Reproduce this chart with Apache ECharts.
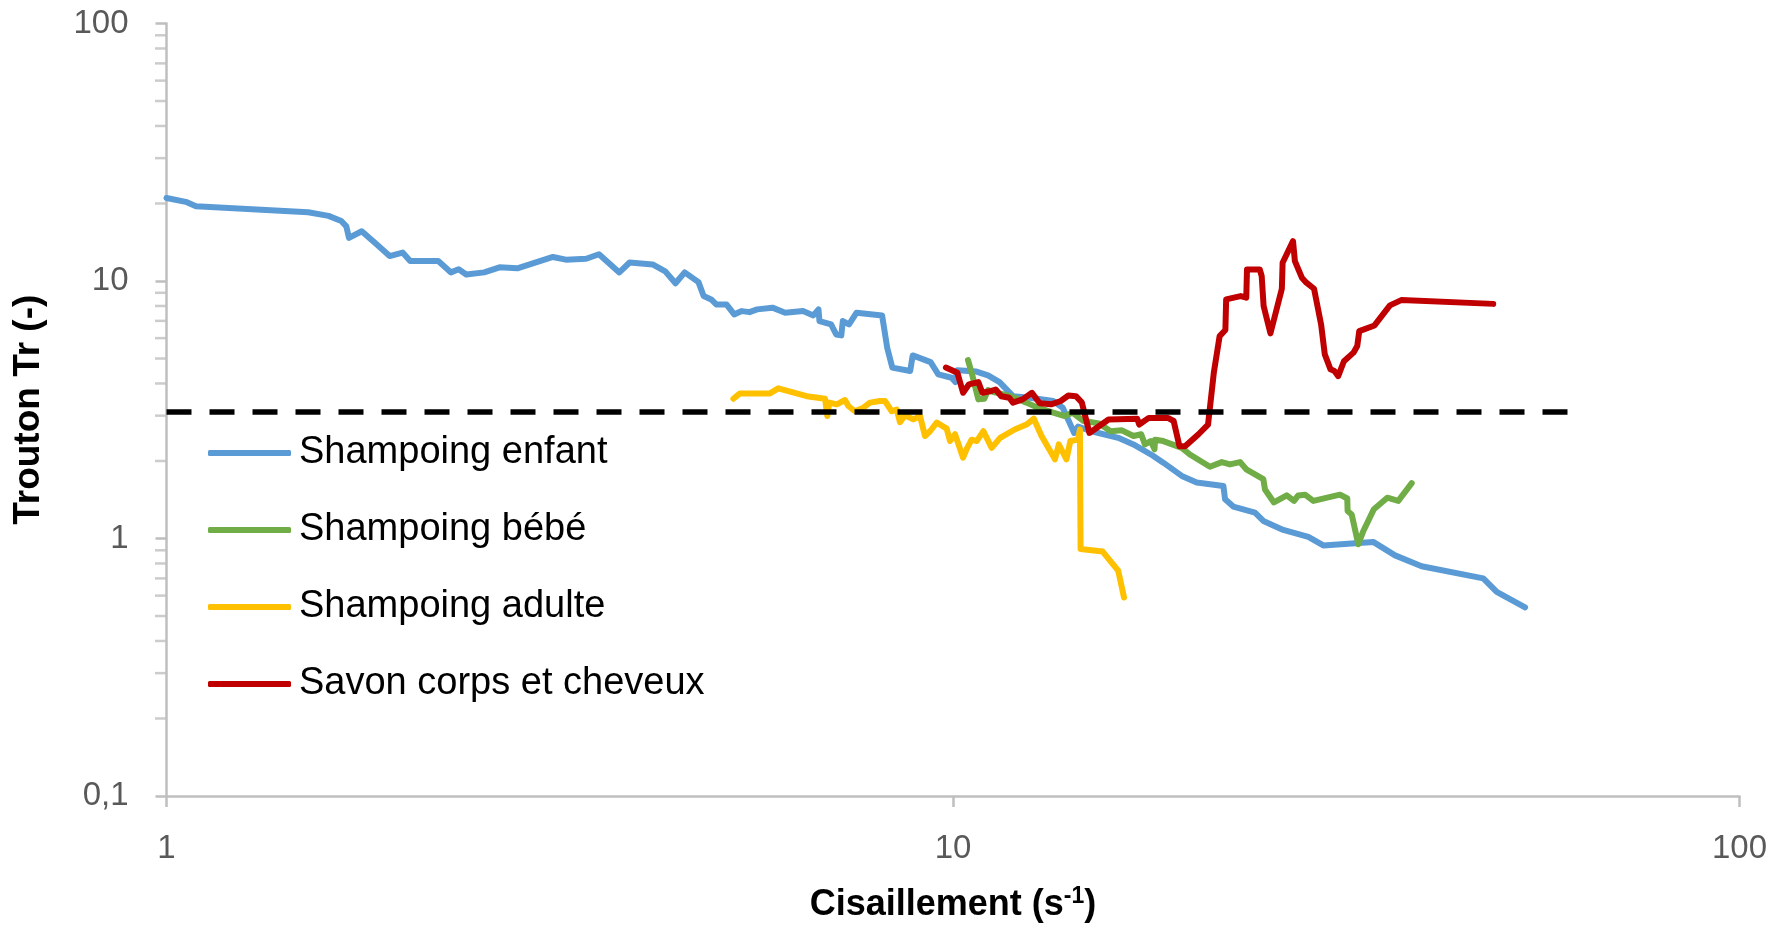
<!DOCTYPE html>
<html>
<head>
<meta charset="utf-8">
<script src="https://cdn.jsdelivr.net/npm/echarts@6.0.0/dist/echarts.min.js"></script>
<style>
  html, body { margin: 0; padding: 0; background: #fff; }
  #main { width: 1770px; height: 932px; }
</style>
</head>
<body>
<div id="main"></div>
<script>
// valeurs : [cisaillement (s-1), Trouton Tr]
var shampoingEnfant = [
  [1.0, 21.0], [1.058, 20.3], [1.09, 19.5], [1.514, 18.5], [1.607, 17.9], [1.668, 17.1],
  [1.693, 16.3], [1.706, 14.7], [1.771, 15.6], [1.839, 14.1], [1.922, 12.5], [1.996, 12.9],
  [2.041, 11.95], [2.216, 11.95], [2.30, 10.8], [2.352, 11.1], [2.405, 10.6], [2.535, 10.8],
  [2.651, 11.3], [2.793, 11.2], [3.10, 12.4], [3.219, 12.1], [3.417, 12.2], [3.547, 12.7],
  [3.765, 10.8], [3.88, 11.8], [4.15, 11.6], [4.307, 10.9], [4.438, 9.8], [4.559, 10.8],
  [4.747, 9.9], [4.819, 8.74], [4.927, 8.48], [5.0, 8.11], [5.152, 8.11], [5.27, 7.42],
  [5.389, 7.64], [5.512, 7.57], [5.636, 7.76], [5.894, 7.88], [6.118, 7.53], [6.447, 7.64],
  [6.644, 7.35], [6.745, 7.76], [6.764, 6.99], [6.998, 6.78], [7.104, 6.2], [7.211, 6.15],
  [7.243, 6.99], [7.376, 6.78], [7.541, 7.53], [8.126, 7.35], [8.248, 5.51], [8.372, 4.61],
  [8.822, 4.47], [8.887, 5.14], [9.366, 4.84], [9.579, 4.34], [9.96, 4.21], [10.07, 4.05],
  [10.13, 4.5], [10.71, 4.45], [11.08, 4.3], [11.46, 4.05], [11.92, 3.57], [12.53, 3.52],
  [13.41, 3.42], [13.79, 3.22], [14.26, 2.57], [14.42, 2.72], [15.0, 2.61], [16.22, 2.46],
  [16.96, 2.32], [17.94, 2.10], [18.51, 1.97], [19.54, 1.75], [20.41, 1.65], [22.07, 1.60],
  [22.18, 1.42], [22.72, 1.33], [24.21, 1.26], [24.81, 1.17], [26.3, 1.08], [28.3, 1.015],
  [29.57, 0.94], [34.22, 0.97], [36.48, 0.86], [39.43, 0.78], [47.23, 0.70], [49.13, 0.62],
  [53.38, 0.54]
];
var shampoingBebe = [
  [10.45, 4.93], [10.59, 4.27], [10.77, 3.47], [10.96, 3.49], [11.08, 3.77], [11.27, 3.70],
  [11.85, 3.57], [12.4, 3.37], [12.82, 3.22], [13.41, 3.08], [13.87, 2.99], [14.18, 3.08],
  [14.66, 2.86], [15.33, 2.80], [15.86, 2.61], [16.4, 2.63], [16.96, 2.50], [17.35, 2.54],
  [17.54, 2.32], [17.84, 2.39], [18.04, 2.22], [18.07, 2.42], [18.51, 2.39], [19.54, 2.25],
  [20.01, 2.12], [21.22, 1.90], [21.97, 1.98], [22.5, 1.94], [23.17, 1.98], [23.63, 1.85],
  [24.81, 1.70], [24.93, 1.55], [25.59, 1.38], [26.57, 1.47], [27.14, 1.40], [27.48, 1.47],
  [28.03, 1.48], [28.72, 1.40], [31.05, 1.48], [31.72, 1.43], [31.75, 1.28], [32.13, 1.24],
  [32.76, 0.95], [33.25, 1.07], [34.29, 1.30], [35.66, 1.44], [36.83, 1.40], [38.31, 1.64]
];
var shampoingAdulte = [
  [5.257, 3.49], [5.36, 3.66], [5.852, 3.66], [5.996, 3.83], [6.517, 3.57], [6.876, 3.49],
  [6.922, 2.99], [6.962, 3.37], [7.115, 3.32], [7.29, 3.45], [7.361, 3.27], [7.505, 3.12],
  [7.691, 3.22], [7.844, 3.37], [8.077, 3.42], [8.194, 3.42], [8.357, 3.12], [8.481, 3.17],
  [8.563, 2.83], [8.69, 3.01], [8.903, 2.90], [9.08, 2.99], [9.213, 2.50], [9.35, 2.61],
  [9.535, 2.82], [9.818, 2.67], [9.913, 2.39], [10.06, 2.54], [10.3, 2.06], [10.41, 2.23],
  [10.56, 2.42], [10.72, 2.39], [10.93, 2.61], [11.2, 2.25], [11.48, 2.46], [11.98, 2.65],
  [12.4, 2.77], [12.67, 2.92], [12.96, 2.50], [13.48, 2.03], [13.63, 2.32], [13.94, 2.03],
  [14.1, 2.39], [14.42, 2.42], [14.5, 2.65], [14.53, 0.91], [15.5, 0.89], [16.22, 0.75],
  [16.5, 0.59]
];
var savonCorps = [
  [9.795, 4.61], [10.13, 4.40], [10.3, 3.68], [10.48, 3.97], [10.77, 4.05], [10.9, 3.68],
  [11.14, 3.73], [11.33, 3.79], [11.52, 3.57], [11.79, 3.52], [11.92, 3.37], [12.26, 3.47],
  [12.6, 3.68], [12.89, 3.35], [13.33, 3.32], [13.71, 3.42], [14.02, 3.59], [14.33, 3.57],
  [14.58, 3.38], [14.91, 2.57], [15.33, 2.73], [15.77, 2.90], [17.15, 2.92], [17.25, 2.77],
  [17.74, 2.94], [18.76, 2.94], [19.08, 2.86], [19.41, 2.28], [19.73, 2.28], [20.52, 2.54],
  [21.1, 2.77], [21.46, 4.40], [21.83, 6.11], [22.2, 6.45], [22.25, 8.48], [23.21, 8.74],
  [23.6, 8.61], [23.65, 11.09], [24.55, 11.09], [24.69, 10.45], [24.83, 7.99], [25.33, 6.26],
  [26.19, 9.33], [26.25, 11.78], [27.06, 14.29], [27.21, 11.95], [27.77, 10.3], [28.14, 9.85],
  [28.78, 9.33], [29.38, 6.78], [29.7, 5.19], [30.2, 4.54], [30.55, 4.47], [30.89, 4.27],
  [31.41, 4.88], [32.3, 5.27], [32.66, 5.59], [32.85, 6.39], [34.35, 6.72], [35.94, 8.04],
  [37.15, 8.43], [48.63, 8.15]
];
// limite Tr = 3 (trait pointillé)
var limiteTrouton = [[1, 3.1], [62.5, 3.1]];

var seriesNames = ['Shampoing enfant', 'Shampoing bébé', 'Shampoing adulte', 'Savon corps et cheveux'];
var seriesColors = ['#5B9BD5', '#70AD47', '#FFC000', '#C00000'];
// graduations secondaires de l'axe Y (Excel)
var yMinorTicks = [0.2, 0.3, 0.4, 0.5, 0.6, 0.7, 0.8, 0.9, 2, 3, 4, 5, 6, 7, 8, 9, 20, 30, 40, 50, 60, 70, 80, 90];

var FONT = 'Liberation Sans';
var AXIS_GREY = '#BFBFBF';
var LABEL_GREY = '#595959';

var chartDom = document.getElementById('main');
var myChart = echarts.init(chartDom);

var allData = [shampoingEnfant, shampoingBebe, shampoingAdulte, savonCorps];
var series = allData.map(function (d, i) {
  return {
    name: seriesNames[i],
    type: 'line',
    data: d,
    showSymbol: false,
    symbol: 'none',
    lineStyle: { width: 6, color: seriesColors[i], cap: 'round', join: 'round' },
    itemStyle: { color: seriesColors[i] },
    z: 3 + i
  };
});
series.push({
  type: 'line',
  data: limiteTrouton,
  showSymbol: false,
  symbol: 'none',
  lineStyle: { width: 5.5, color: '#000', type: [25, 18] },
  z: 10,
  silent: true
});
series.push({
  type: 'scatter',
  data: yMinorTicks.map(function (v) { return [1, v]; }),
  symbol: 'rect',
  symbolSize: [11, 2.5],
  symbolOffset: [-6, 0],
  itemStyle: { color: AXIS_GREY },
  clip: false,
  silent: true,
  z: 1
});

var option = {
  animation: false,
  backgroundColor: '#fff',
  textStyle: { fontFamily: FONT },
  grid: { left: 166.5, right: 30.5, top: 23.5, bottom: 136, containLabel: false },
  legend: {
    data: seriesNames,
    orient: 'vertical',
    left: 203,
    top: 428,
    itemWidth: 83,
    itemHeight: 6,
    itemGap: 37,
    icon: 'roundRect',
    textStyle: { fontFamily: FONT, fontSize: 38, color: '#000', lineHeight: 40, padding: [0, 0, 0, 3] }
  },
  xAxis: {
    type: 'log',
    logBase: 10,
    min: 1,
    max: 100,
    name: 'Cisaillement (s{sup|-1})',
    nameLocation: 'middle',
    nameGap: 89,
    nameTextStyle: {
      fontFamily: FONT, fontSize: 36, fontWeight: 'bold', color: '#000', lineHeight: 40,
      rich: { sup: { fontFamily: FONT, fontSize: 23, fontWeight: 'bold', color: '#000', verticalAlign: 'top', lineHeight: 40, padding: [0, 0, 12, 0] } }
    },
    axisLine: { lineStyle: { color: AXIS_GREY, width: 2.5 } },
    axisTick: { show: true, length: 11, lineStyle: { color: AXIS_GREY, width: 2.5 } },
    minorTick: { show: false },
    splitLine: { show: false },
    axisLabel: { fontFamily: FONT, fontSize: 33, color: LABEL_GREY, margin: 36 }
  },
  yAxis: {
    type: 'log',
    logBase: 10,
    min: 0.1,
    max: 100,
    name: 'Trouton Tr (-)',
    nameLocation: 'middle',
    nameRotate: 90,
    nameGap: 119,
    nameTextStyle: { fontFamily: FONT, fontSize: 37, fontWeight: 'bold', color: '#000' },
    axisLine: { show: true, lineStyle: { color: AXIS_GREY, width: 2.5 } },
    axisTick: { show: true, length: 11, lineStyle: { color: AXIS_GREY, width: 2.5 } },
    minorTick: { show: false },
    splitLine: { show: false },
    axisLabel: {
      fontFamily: FONT, fontSize: 33, color: LABEL_GREY, margin: 38,
      formatter: function (v) {
        var s = v < 1 ? Number(v).toFixed(1) : String(Math.round(v));
        return s.replace('.', ',');
      }
    }
  },
  series: series
};

myChart.setOption(option);
window.onresize = function () { myChart.resize(); };
</script>
</body>
</html>
